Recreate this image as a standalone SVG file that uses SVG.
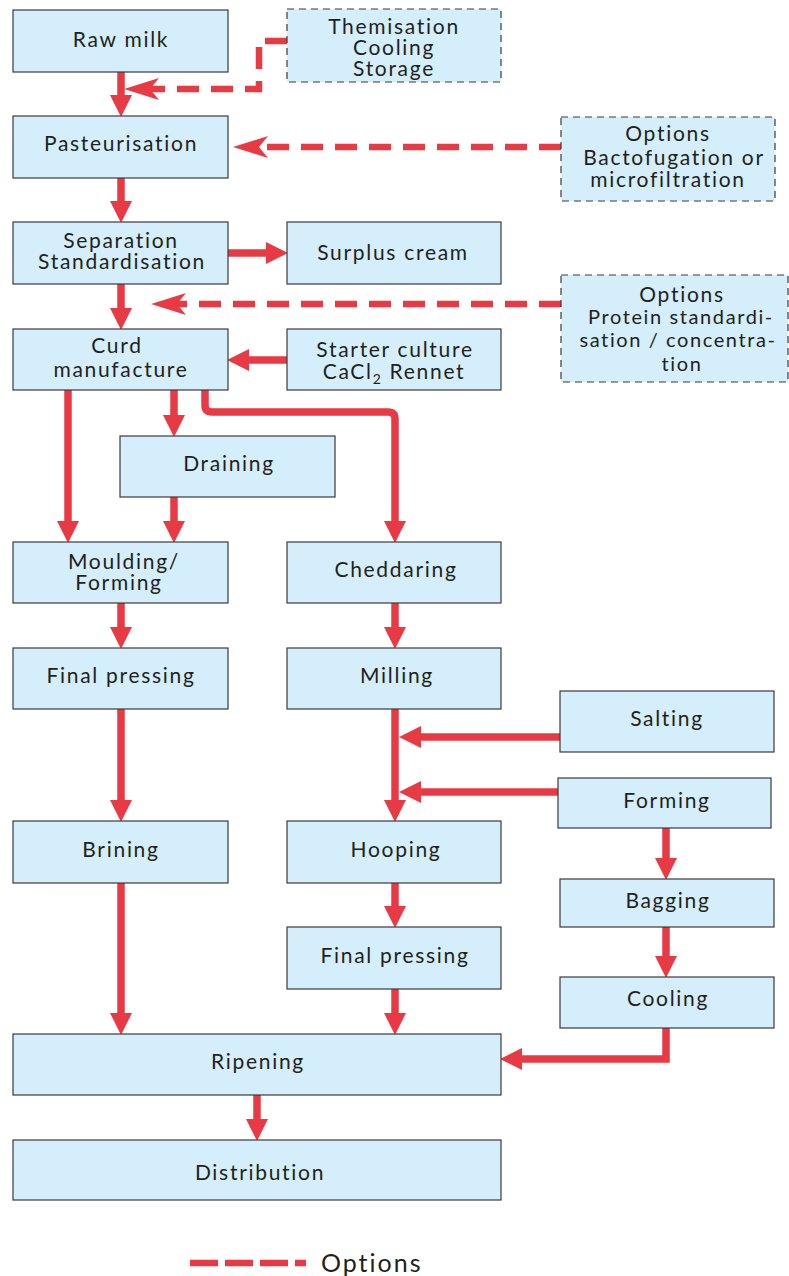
<svg xmlns="http://www.w3.org/2000/svg" width="789" height="1276" viewBox="0 0 789 1276">
<style>
.b{fill:#d4eefb;stroke:#3a3a3a;stroke-width:1.2}
.d{fill:#d4eefb;stroke:#3a3a3a;stroke-width:1.2;stroke-dasharray:7 5}
text{font-family:Lato,"Open Sans","Liberation Sans",sans-serif;font-size:21px;letter-spacing:1.7px;fill:#231f20;text-anchor:middle}
.s{font-size:20px;letter-spacing:1.6px}
.c{fill:none;stroke:#e83a45;stroke-width:7.5}
.k{fill:none;stroke:#e83a45;stroke-width:6.5;stroke-dasharray:22 12}
</style>
<defs>
<marker id="ah" markerUnits="userSpaceOnUse" markerWidth="23" markerHeight="24" viewBox="0 0 23 24" refX="8" refY="12" orient="auto"><path d="M0,1 L22,12 L0,23 z" fill="#e83a45"/></marker>
<marker id="dh" markerUnits="userSpaceOnUse" markerWidth="36" markerHeight="24" viewBox="0 0 36 24" refX="10" refY="12" orient="auto"><path d="M0,1 L35,12 L0,23 L9,12 z" fill="#e83a45"/></marker>
</defs>
<g id="connectors">
<path class="c" d="M121,72 V103" marker-end="url(#ah)"/>
<path class="c" d="M121,178 V209" marker-end="url(#ah)"/>
<path class="c" d="M121,284 V316" marker-end="url(#ah)"/>
<path class="c" d="M68,390 V529" marker-end="url(#ah)"/>
<path class="c" d="M174,390 V423" marker-end="url(#ah)"/>
<path class="c" d="M174,497 V529" marker-end="url(#ah)"/>
<path class="c" d="M205,390 V405 Q205,412 212,412 H388 Q395,412 395,419 V529" marker-end="url(#ah)"/>
<path class="c" d="M121,603 V635" marker-end="url(#ah)"/>
<path class="c" d="M121,709 V808" marker-end="url(#ah)"/>
<path class="c" d="M121,883 V1021" marker-end="url(#ah)"/>
<path class="c" d="M395,603 V635" marker-end="url(#ah)"/>
<path class="c" d="M395,709 V808" marker-end="url(#ah)"/>
<path class="c" d="M395,883 V914" marker-end="url(#ah)"/>
<path class="c" d="M395,989 V1021" marker-end="url(#ah)"/>
<path class="c" d="M257,1095 V1127" marker-end="url(#ah)"/>
<path class="c" d="M228,253 H274" marker-end="url(#ah)"/>
<path class="c" d="M287,360 H241" marker-end="url(#ah)"/>
<path class="c" d="M560,737 H413" marker-end="url(#ah)"/>
<path class="c" d="M558,792 H413" marker-end="url(#ah)"/>
<path class="c" d="M666,828 V866" marker-end="url(#ah)"/>
<path class="c" d="M666,927 V964" marker-end="url(#ah)"/>
<path class="c" d="M666,1028 V1059 H514" marker-end="url(#ah)"/>
<path class="k" d="M287,41 H259 V89 H149" marker-end="url(#dh)"/>
<path class="k" d="M561,147 H258" marker-end="url(#dh)"/>
<path class="k" d="M561,304 H176" marker-end="url(#dh)"/>
</g>
<g id="raw-milk"><rect class="b" x="13" y="10" width="215" height="62"/><text x="121" y="47">Raw milk</text></g>
<g id="thermisation"><rect class="d" x="287" y="9" width="214" height="73"/><text x="394" y="34">Themisation</text><text x="394" y="55">Cooling</text><text x="394" y="76">Storage</text></g>
<g id="pasteurisation"><rect class="b" x="13" y="116" width="215" height="62"/><text x="121" y="151">Pasteurisation</text></g>
<g id="options-bacto"><rect class="d" x="561" y="117" width="214" height="84"/><text x="668" y="141">Options</text><text x="674" y="165">Bactofugation or</text><text x="668" y="187">microfiltration</text></g>
<g id="separation"><rect class="b" x="13" y="222" width="215" height="62"/><text x="121" y="248">Separation</text><text x="122" y="269">Standardisation</text></g>
<g id="surplus-cream"><rect class="b" x="287" y="222" width="214" height="62"/><text x="393" y="260">Surplus cream</text></g>
<g id="options-protein"><rect class="d" x="561" y="275" width="227" height="107"/><text x="682" y="302">Options</text><text class="s" x="681" y="324">Protein standardi-</text><text class="s" x="678" y="347">sation / concentra-</text><text class="s" x="682" y="371">tion</text></g>
<g id="curd-manufacture"><rect class="b" x="13" y="329" width="215" height="61"/><text x="117" y="353">Curd</text><text x="121" y="377">manufacture</text></g>
<g id="starter-culture"><rect class="b" x="287" y="329" width="214" height="61"/><text x="395" y="357">Starter culture</text><text x="394" y="379">CaCl<tspan font-size="14" dy="5">2</tspan><tspan dy="-5"> Rennet</tspan></text></g>
<g id="draining"><rect class="b" x="120" y="436" width="215" height="61"/><text x="229" y="471">Draining</text></g>
<g id="moulding"><rect class="b" x="13" y="542" width="215" height="61"/><text x="124" y="569">Moulding/</text><text x="119" y="590">Forming</text></g>
<g id="cheddaring"><rect class="b" x="287" y="542" width="214" height="61"/><text x="396" y="577">Cheddaring</text></g>
<g id="final-pressing-l"><rect class="b" x="13" y="648" width="215" height="61"/><text x="121" y="683">Final pressing</text></g>
<g id="milling"><rect class="b" x="287" y="648" width="214" height="61"/><text x="397" y="683">Milling</text></g>
<g id="salting"><rect class="b" x="560" y="691" width="214" height="61"/><text x="667" y="726">Salting</text></g>
<g id="forming"><rect class="b" x="558" y="778" width="213" height="50"/><text x="667" y="808">Forming</text></g>
<g id="brining"><rect class="b" x="13" y="821" width="215" height="62"/><text x="121" y="857">Brining</text></g>
<g id="hooping"><rect class="b" x="287" y="821" width="214" height="62"/><text x="396" y="857">Hooping</text></g>
<g id="bagging"><rect class="b" x="560" y="879" width="214" height="48"/><text x="668" y="908">Bagging</text></g>
<g id="final-pressing-r"><rect class="b" x="287" y="927" width="214" height="62"/><text x="395" y="963">Final pressing</text></g>
<g id="cooling"><rect class="b" x="560" y="977" width="214" height="51"/><text x="668" y="1006">Cooling</text></g>
<g id="ripening"><rect class="b" x="13" y="1034" width="488" height="61"/><text x="258" y="1069">Ripening</text></g>
<g id="distribution"><rect class="b" x="13" y="1140" width="488" height="60"/><text x="260" y="1180">Distribution</text></g>
<g id="legend"><path class="k" d="M190,1263 H306" style="stroke-dasharray:28 7"/><text x="321" y="1272" style="text-anchor:start;font-size:25px;letter-spacing:2px">Options</text></g>
</svg>
